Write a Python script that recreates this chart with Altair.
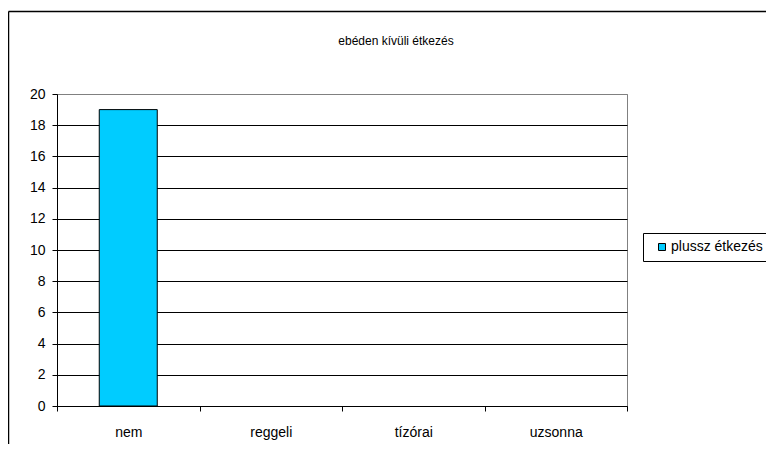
import altair as alt
import pandas as pd

categories = ["nem", "reggeli", "tízórai", "uzsonna"]
values = [19, 0, 0, 0]
series_name = "plussz étkezés"
chart_title = "ebéden kívüli étkezés"
y_ticks = [0, 2, 4, 6, 8, 10, 12, 14, 16, 18, 20]

FONT = "Liberation Sans"
LABEL_SIZE = 14

df = pd.DataFrame({
    "kategoria": categories,
    "ertek": values,
    "sorozat": [series_name] * len(categories),
})

bars = alt.Chart(df).mark_bar(size=58, strokeWidth=1).encode(
    x=alt.X(
        "kategoria:N",
        sort=categories,
        scale=alt.Scale(paddingInner=0, paddingOuter=0),
        axis=alt.Axis(
            title=None, labelAngle=0, tickBand="extent", grid=False,
            domainColor="black", tickColor="black", tickSize=5,
            labelPadding=14, labelFontSize=LABEL_SIZE, labelColor="black", labelFont=FONT,
        ),
    ),
    y=alt.Y(
        "ertek:Q",
        scale=alt.Scale(domain=[0, 20], nice=False),
        axis=alt.Axis(
            title=None, values=y_ticks, grid=True,
            gridColor={"condition": {"test": "datum.value == 20", "value": "#808080"}, "value": "black"},
            gridOpacity=1, gridWidth=1,
            domainColor="black", tickColor="black", tickSize=5,
            labelPadding=7, labelFontSize=LABEL_SIZE, labelColor="black", labelFont=FONT,
        ),
    ),
    color=alt.Color(
        "sorozat:N",
        scale=alt.Scale(domain=[series_name], range=["#00CCFF"]),
        legend=alt.Legend(
            title=None, orient="none", legendX=586, legendY=139,
            strokeColor="black", fillColor="white", padding=7,
            symbolType="square", symbolSize=49, symbolStrokeColor="black",
            symbolStrokeWidth=1, symbolOffset=5, labelOffset=2,
            labelFontSize=LABEL_SIZE, labelFont=FONT, labelColor="black",
        ),
    ),
    stroke=alt.condition("datum.ertek > 0", alt.value("black"), alt.value("transparent")),
)

one = pd.DataFrame({"t": [chart_title]})

title = alt.Chart(one).mark_text(
    fontSize=12, font=FONT, color="black", align="center", baseline="middle"
).encode(x=alt.value(339), y=alt.value(-53), text="t:N")

border_top = alt.Chart(one).mark_rule(color="black", strokeWidth=1.5).encode(
    x=alt.value(-48.5), x2=alt.value(720), y=alt.value(-82.5)
)
border_left = alt.Chart(one).mark_rule(color="black", strokeWidth=1.5).encode(
    x=alt.value(-48.5), y=alt.value(-82.5), y2=alt.value(360)
)

chart = alt.layer(bars, title, border_top, border_left).properties(
    width=570,
    height=312,
    autosize=alt.AutoSizeParams(type="none"),
    padding={"left": 49, "top": 86, "right": 139, "bottom": 38},
    background="white",
).configure(font=FONT).configure_view(stroke="#808080", strokeWidth=1)

chart.save("out.html", embed_options={"renderer": "svg", "actions": False})
